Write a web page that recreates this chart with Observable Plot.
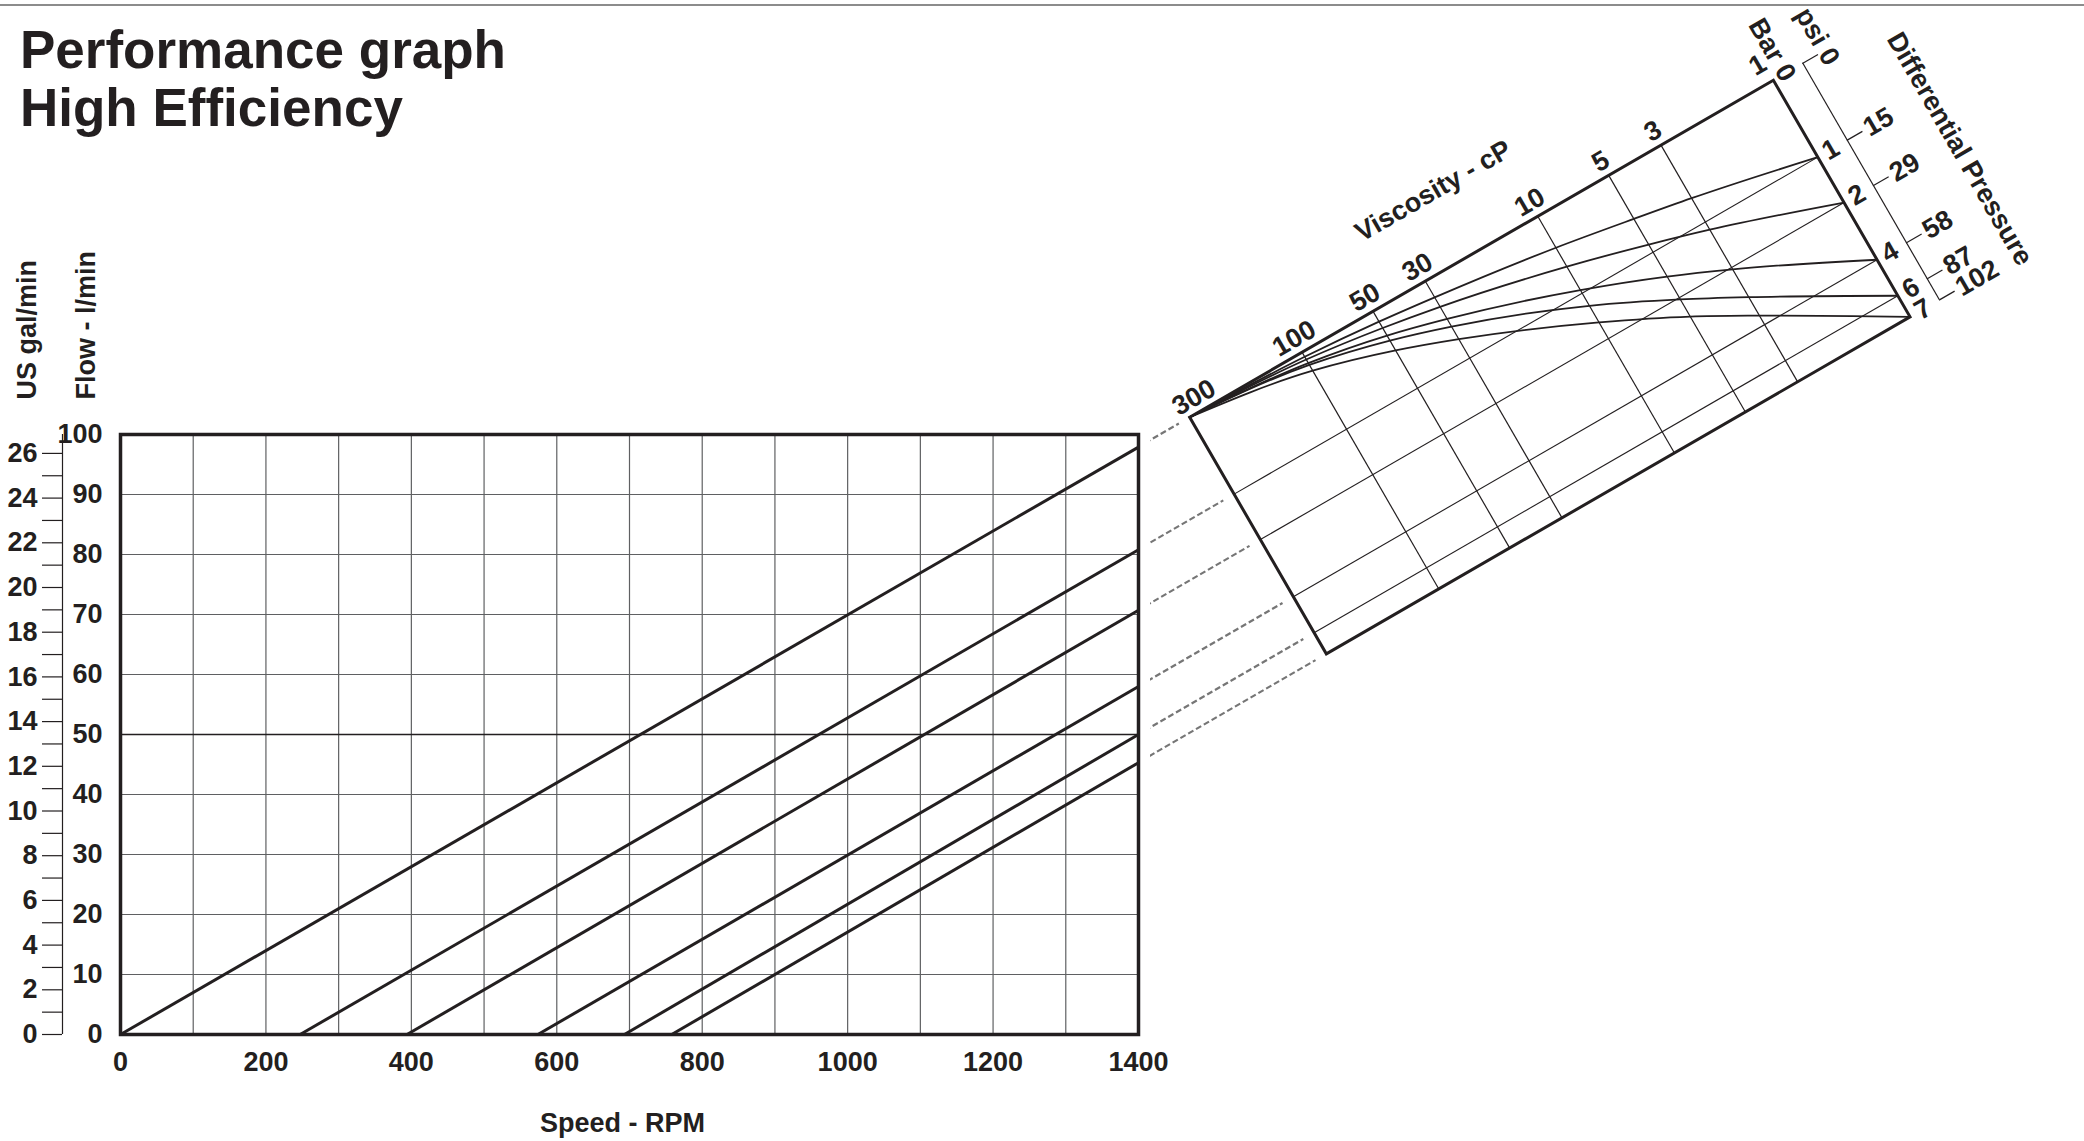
<!DOCTYPE html>
<html>
<head>
<meta charset="utf-8">
<script src="https://cdn.jsdelivr.net/npm/d3@7"></script>
<script src="https://cdn.jsdelivr.net/npm/@observablehq/plot@0.6"></script>
<style>
  body { margin: 0; background: #fff; }
  #page { position: relative; width: 2084px; height: 1141px; overflow: hidden;
          font-family: "Liberation Sans", Arial, Helvetica, sans-serif; color: #231f20; background: #fff; }
  #rule { position: absolute; left: 0; top: 4px; width: 2084px; height: 2px; background: #8c8c8c; }
  #title { position: absolute; left: 20px; top: 21px; font-size: 53px; line-height: 58px; font-weight: bold; }
  #main { position: absolute; left: 0; top: 0; }
  #clip { position: absolute; left: 1150px; top: 0; width: 934px; height: 1141px; overflow: hidden; }
  svg { max-width: none !important; background: transparent !important; overflow: visible; }
</style>
</head>
<body>
<div id="page">
  <div id="rule"></div>
  <div id="main"></div>
  <div id="clip"></div>
  <div id="title">Performance graph<br>High Efficiency</div>
</div>
<script>
// ---------------- data ----------------
const speedTicks = [0, 200, 400, 600, 800, 1000, 1200, 1400];
const speedGrid = [100, 200, 300, 400, 500, 600, 700, 800, 900, 1000, 1100, 1200, 1300];
const flowTicks = [0, 10, 20, 30, 40, 50, 60, 70, 80, 90, 100];
const galTicks = [0, 1, 2, 3, 4, 5, 6, 7, 8, 9, 10, 11, 12, 13, 14, 15, 16, 17, 18, 19, 20, 21, 22, 23, 24, 25, 26];
const galLabels = [0, 2, 4, 6, 8, 10, 12, 14, 16, 18, 20, 22, 24, 26];
const litresPerGal = 3.725;            // as drawn on the chart's twin axis

const pressureBar = [0, 1, 2, 4, 6, 7];
const pressurePsi = [0, 15, 29, 58, 87, 102];
const zeroFlowRpm = [0, 247, 394, 574, 693, 758];      // where each line leaves the speed axis
const flowAt1400 = [97.9, 80.8, 70.7, 58.0, 50.0, 45.3]; // l/min at 1400 rpm

const viscosityTicks = [300, 100, 50, 30, 10, 5, 3, 1];
const viscosityGrid = [100, 50, 30, 10, 5, 3];
const curveViscosity = [300, 100, 50, 30, 10, 5, 3, 1];
// flow loss (l/min at 1400 rpm) read along each pressure curve of the viscosity nomogram
const slipCurve1bar = [0, 1.0, 2.3, 3.6, 7.0, 9.7, 11.8, 17.1];
const slipCurve2bar = [0, 1.6, 3.7, 5.7, 11.2, 15.4, 18.8, 27.2];
const slipCurve4bar = [0, 2.4, 5.4, 8.4, 16.4, 22.5, 27.6, 39.9];
const slipCurve6bar = [0, 2.8, 6.5, 10.1, 19.9, 27.6, 33.8, 47.9];
const slipCurve7bar = [0, 4.1, 8.7, 12.9, 23.6, 31.4, 37.9, 52.6];

// ---------------- tables built from the arrays ----------------
const rows = pressureBar.map((b, i) => ({
  bar: b, psi: pressurePsi[i], start: zeroFlowRpm[i], flow: flowAt1400[i],
  slip: flowAt1400[0] - flowAt1400[i]
}));
const curveSets = [[1, slipCurve1bar], [2, slipCurve2bar], [4, slipCurve4bar], [6, slipCurve6bar], [7, slipCurve7bar]];
const curves = curveSets.flatMap(([bar, arr]) => arr.map((s, i) => ({bar, visc: curveViscosity[i], slip: s})));

// ---------------- styles / layout ----------------
const ink = "#231f20", grid = "#5f6062";
const font = '"Liberation Sans", Arial, Helvetica, sans-serif';
const txt = {fill: ink, fontSize: 27, fontWeight: "bold", lineAnchor: "middle"};
const txtN = {fill: ink, fontSize: 27, fontWeight: "bold", lineAnchor: "middle"};

const MW = 1200, MH = 1141, mL = 120, mR = 62, mT = 434, mB = 107;
const frameW = MW - mL - mR, frameH = MH - mT - mB;
const rpmMax = 1400;
const pxToRpm = px => (px - mL) / frameW * rpmMax;

const main = Plot.plot({
  width: MW, height: MH,
  marginLeft: mL, marginRight: mR, marginTop: mT, marginBottom: mB,
  style: {fontFamily: font, background: "transparent", color: ink},
  x: {domain: [0, rpmMax], axis: null},
  y: {domain: [0, 100], axis: null},
  marks: [
    Plot.ruleX(speedGrid, {stroke: grid, strokeWidth: 1.2}),
    Plot.ruleY(flowTicks.filter(d => d > 0 && d < 100 && d !== 50), {stroke: grid, strokeWidth: 1.2}),
    Plot.ruleY([50], {stroke: ink, strokeWidth: 1.5}),
    Plot.link(rows, {x1: "start", y1: () => 0, x2: () => rpmMax, y2: "flow", stroke: ink, strokeWidth: 3}),
    Plot.frame({stroke: ink, strokeWidth: 3.5}),
    Plot.text(speedTicks, {x: d => d, frameAnchor: "bottom", dy: 28, textAnchor: "middle", text: d => String(d), ...txt}),
    Plot.text(["Speed - RPM"], {frameAnchor: "bottom", dx: -7, dy: 89, textAnchor: "middle", text: d => d, ...txt}),
    Plot.text(flowTicks, {y: d => d, frameAnchor: "left", dx: -18, textAnchor: "end", text: d => String(d), ...txt}),
    Plot.ruleX([0], {dx: -58, stroke: ink, strokeWidth: 1.2}),
    Plot.ruleY(galTicks, {y: g => g * litresPerGal, x1: () => pxToRpm(42), x2: () => pxToRpm(62), stroke: ink, strokeWidth: 1.2}),
    Plot.text(galLabels, {y: g => g * litresPerGal, frameAnchor: "left", dx: -83, textAnchor: "end", text: d => String(d), ...txt}),
    Plot.text(["US gal/min"], {frameAnchor: "top-left", dx: -93, dy: -35, rotate: -90, textAnchor: "start", text: d => d, ...txt}),
    Plot.text(["Flow - l/min"], {frameAnchor: "top-left", dx: -34, dy: -35, rotate: -90, textAnchor: "start", text: d => d, ...txt})
  ]
});
document.getElementById("main").appendChild(main);

// ---------------- rotated viscosity / pressure nomogram ----------------
const tan30 = Math.tan(Math.PI / 6), cos30 = Math.cos(Math.PI / 6);
const yMain = q => mT + (1 - q / 100) * frameH;
const TLx = 1189;
const TLy = yMain(flowAt1400[0]) - (TLx - (MW - mR)) * tan30;
const slipMax = rows[rows.length - 1].slip;
const nW = 674, nL = 320, nT = 110, nR = 170, nB = 30;
const nH = slipMax * (frameH / 100) * cos30;
const viscAt = px => viscosityTicks[0] * Math.pow(viscosityTicks[0] / viscosityTicks[viscosityTicks.length - 1], -px / nW);

const nomo = Plot.plot({
  width: nL + nW + nR, height: nT + nH + nB,
  marginLeft: nL, marginRight: nR, marginTop: nT, marginBottom: nB,
  style: {fontFamily: font, background: "transparent", color: ink},
  x: {type: "log", domain: [300, 1], axis: null},
  y: {domain: [0, slipMax], reverse: true, axis: null},
  marks: [
    Plot.ruleY(rows, {y: "slip", x1: () => viscAt(-330), x2: () => viscAt(-12), stroke: "#767676", strokeWidth: 2.2, strokeDasharray: "6,3"}),
    Plot.ruleX(viscosityGrid, {stroke: ink, strokeWidth: 1.2}),
    Plot.ruleY(rows.slice(1, rows.length - 1), {y: "slip", stroke: ink, strokeWidth: 1.1}),
    Plot.line(curves, {x: "visc", y: "slip", z: "bar", curve: "monotone-x", stroke: ink, strokeWidth: 1.8}),
    Plot.frame({stroke: ink, strokeWidth: 3}),
    Plot.ruleX([1], {dx: 34, stroke: ink, strokeWidth: 1.2}),
    Plot.ruleY(rows, {y: "slip", x1: () => viscAt(nW + 34), x2: () => viscAt(nW + 52), stroke: ink, strokeWidth: 1.2}),
    Plot.text(viscosityTicks.slice(1, -1), {x: d => d, frameAnchor: "top", dy: -16, textAnchor: "middle", text: d => String(d), ...txtN}),
    Plot.text([viscosityTicks[0]], {x: d => d, frameAnchor: "top", dx: -9, dy: -15, textAnchor: "start", text: d => String(d), ...txtN}),
    Plot.text([viscosityTicks[viscosityTicks.length - 1]], {x: d => d, frameAnchor: "top", dx: -6, dy: -21, textAnchor: "middle", text: d => String(d), ...txtN}),
    Plot.text(["Viscosity - cP"], {frameAnchor: "top", dx: -13, dy: -74, textAnchor: "middle", text: d => d, ...txtN}),
    Plot.text(rows.slice(1), {y: "slip", frameAnchor: "right", dx: 15, textAnchor: "middle", text: d => String(d.bar), ...txtN}),
    Plot.text(["Bar 0"], {frameAnchor: "top-right", dx: 14, dy: 7, rotate: 90, textAnchor: "end", text: d => d, ...txtN}),
    Plot.text(rows.slice(1), {y: "slip", frameAnchor: "right", dx: 55, textAnchor: "start", text: d => String(d.psi), ...txtN}),
    Plot.text(["psi 0"], {frameAnchor: "top-right", dx: 60, dy: 15, rotate: 90, textAnchor: "end", text: d => d, ...txtN}),
    Plot.text(["Differential Pressure"], {frameAnchor: "right", dx: 127, dy: 16, rotate: 90, textAnchor: "middle", text: d => d, ...txtN})
  ]
});
nomo.style.position = "absolute";
nomo.style.left = (TLx - nL - 1150) + "px";
nomo.style.top = (TLy - nT) + "px";
nomo.style.transformOrigin = nL + "px " + nT + "px";
nomo.style.transform = "rotate(-30deg)";
document.getElementById("clip").appendChild(nomo);
</script>
</body>
</html>
